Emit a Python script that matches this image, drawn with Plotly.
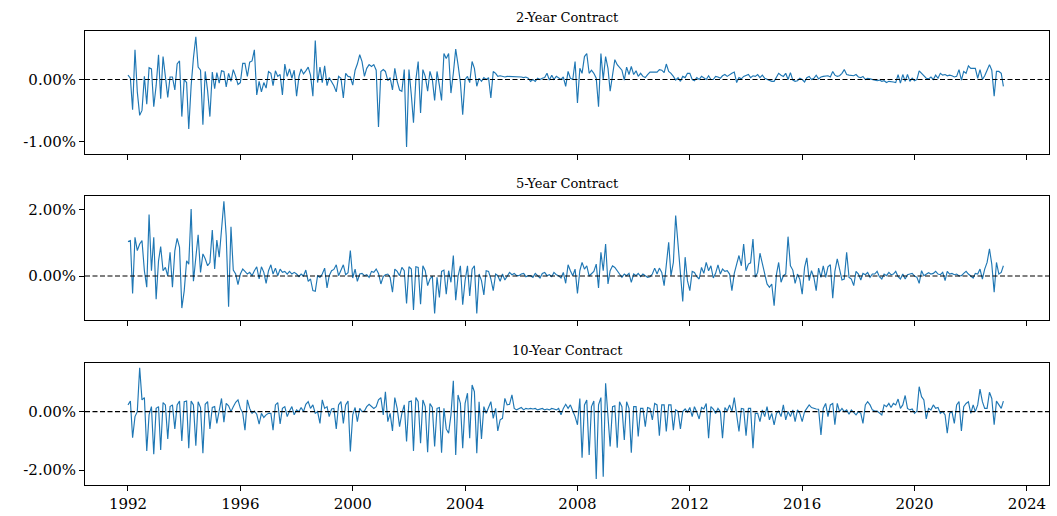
import pandas as pd
import plotly.graph_objects as go

# Monthly observations, January 1992 through March 2023 (values in percent)
dates = pd.date_range("1992-01-01", periods=375, freq="MS")

two_year = [
    # 1992
    0.07, 0.02, -0.49, 0.48, -0.20, -0.58, -0.50, 0.05, -0.40, 0.19, 0.17, -0.44,
    # 1993
    -0.10, 0.40, -0.31, 0.37, 0.05, -0.29, 0.04, 0.04, -0.17, 0.25, 0.30, -0.60,
    # 1994
    0.00, -0.05, -0.80, -0.10, 0.35, 0.69, 0.20, 0.15, -0.73, 0.13, -0.18, -0.60,
    # 1995
    0.12, -0.15, 0.11, -0.06, 0.14, 0.13, -0.12, 0.10, -0.03, 0.16, 0.05, -0.08,
    # 1996
    -0.05, 0.26, 0.26, 0.05, 0.28, 0.30, 0.48, -0.25, -0.03, -0.20, -0.05, -0.14,
    # 1997
    0.13, 0.10, -0.10, 0.14, 0.05, 0.08, -0.25, 0.25, 0.05, 0.17, 0.02, 0.15,
    # 1998
    -0.27, 0.05, 0.17, 0.09, 0.14, 0.20, 0.07, -0.27, 0.63, -0.05, 0.20, -0.05,
    # 1999
    0.22, -0.10, 0.03, -0.04, -0.10, -0.20, 0.05, 0.02, -0.30, 0.10, 0.05, 0.04,
    # 2000
    -0.09, 0.15, 0.25, 0.40, 0.29, 0.05, 0.18, 0.24, 0.21, 0.24, 0.15, -0.77,
    # 2001
    0.13, 0.16, 0.13, -0.02, 0.03, -0.17, 0.18, -0.03, -0.17, -0.19, 0.16, -1.09,
    # 2002
    0.16, -0.25, -0.70, 0.00, 0.29, -0.54, 0.16, 0.05, -0.19, 0.13, 0.00, -0.34,
    # 2003
    0.13, -0.10, -0.34, 0.42, 0.34, 0.42, -0.22, 0.10, 0.49, 0.24, -0.05, -0.57,
    # 2004
    0.00, 0.05, -0.05, 0.29, 0.18, -0.11, 0.02, -0.03, 0.03, 0.00, 0.03, -0.30,
    # 2005
    0.13, 0.10, 0.05, 0.06, 0.05, 0.04, 0.05, 0.05, 0.04, 0.05, 0.05, 0.04,
    # 2006
    0.04, 0.03, 0.04, 0.02, -0.03, 0.00, -0.03, 0.02, 0.00, 0.02, 0.03, 0.10,
    # 2007
    -0.01, 0.07, 0.00, 0.05, 0.02, 0.00, 0.04, -0.11, 0.13, 0.02, 0.00, 0.29,
    # 2008
    -0.38, 0.18, 0.10, 0.37, 0.42, 0.10, 0.15, 0.10, 0.02, -0.44, 0.42, 0.00,
    # 2009
    0.37, 0.18, -0.19, 0.10, 0.32, 0.24, 0.20, 0.15, -0.01, 0.20, 0.08, 0.21,
    # 2010
    0.08, 0.14, 0.05, 0.10, 0.05, 0.03, 0.08, 0.12, 0.12, 0.12, 0.12, 0.16,
    # 2011
    0.15, 0.11, 0.25, 0.13, 0.10, 0.05, -0.01, 0.03, -0.03, 0.05, 0.03, 0.10,
    # 2012
    0.10, 0.00, -0.02, 0.03, 0.00, 0.05, 0.02, 0.00, 0.06, 0.00, 0.00, 0.05,
    # 2013
    0.04, 0.02, 0.06, 0.08, 0.05, 0.08, 0.10, 0.12, -0.05, 0.03, 0.01, 0.05,
    # 2014
    0.06, 0.08, 0.03, 0.06, 0.05, 0.08, 0.03, 0.07, 0.02, 0.00, -0.02, -0.03,
    # 2015
    -0.03, 0.04, 0.10, 0.07, 0.05, 0.10, 0.00, 0.11, -0.01, -0.03, -0.02, 0.02,
    # 2016
    0.00, -0.04, 0.03, 0.05, 0.00, 0.02, 0.07, 0.01, 0.04, 0.05, 0.06, 0.06,
    # 2017
    0.04, 0.13, 0.07, 0.05, 0.06, 0.10, 0.16, 0.08, 0.07, 0.06, 0.06, 0.08,
    # 2018
    0.04, 0.03, 0.05, 0.00, 0.02, 0.01, 0.00, -0.02, -0.02, -0.01, -0.03, -0.02,
    # 2019
    -0.05, -0.03, -0.03, -0.04, -0.05, 0.08, -0.06, 0.08, -0.03, 0.08, -0.03, 0.02,
    # 2020
    -0.02, 0.00, 0.14, 0.10, 0.05, 0.02, 0.01, 0.04, 0.00, 0.07, 0.02, 0.10,
    # 2021
    0.07, 0.08, 0.06, 0.07, 0.06, 0.04, 0.05, 0.16, -0.01, 0.13, 0.10, 0.22,
    # 2022
    0.18, 0.18, 0.18, 0.02, 0.16, 0.00, 0.06, 0.15, 0.24, 0.15, -0.27, 0.13,
    # 2023
    0.13, 0.10, -0.11,
]

five_year = [
    # 1992
    1.04, 1.07, -0.53, 1.17, 0.77, 0.97, 1.07, 0.16, -0.34, 1.86, 0.16, 1.17,
    # 1993
    -0.70, 0.46, 0.89, 0.16, 0.26, 0.00, 0.72, -0.34, 0.76, 1.14, 0.87, -0.97,
    # 1994
    -0.45, 0.46, 0.36, 2.03, -0.16, 0.60, 1.25, 0.11, 0.67, 0.52, 0.31, 0.41,
    # 1995
    1.39, 0.21, 1.09, 0.57, 1.39, 2.26, 1.22, -0.93, 1.49, 0.18, 0.06, -0.26,
    # 1996
    0.06, 0.21, 0.14, 0.06, 0.11, 0.01, 0.16, 0.28, -0.09, 0.28, 0.11, -0.22,
    # 1997
    0.16, 0.34, 0.06, 0.24, 0.01, 0.21, 0.11, 0.14, 0.06, 0.14, 0.06, 0.11,
    # 1998
    0.06, -0.02, 0.06, 0.00, 0.18, -0.16, -0.09, -0.44, -0.46, 0.01, -0.04, 0.06,
    # 1999
    0.24, -0.36, 0.01, 0.16, 0.20, 0.34, 0.01, 0.16, 0.34, 0.04, 0.10, 0.77,
    # 2000
    -0.06, 0.21, -0.16, 0.06, 0.08, 0.01, 0.04, -0.04, 0.14, 0.11, 0.21, 0.08,
    # 2001
    -0.24, -0.02, 0.04, 0.06, -0.04, -0.49, 0.21, 0.14, 0.01, 0.26, 0.16, -0.83,
    # 2002
    0.28, 0.21, -1.03, 0.28, 0.26, -0.85, 0.31, 0.16, -0.29, -0.09, 0.00, -1.13,
    # 2003
    -0.04, -0.65, 0.14, 0.18, -0.55, 0.16, -0.19, 0.62, -0.73, -0.01, 0.31, -0.87,
    # 2004
    -0.14, 0.31, -0.60, 0.21, 0.31, -1.13, 0.06, -0.14, -0.57, 0.16, 0.14, -0.09,
    # 2005
    -0.44, 0.06, 0.01, -0.16, 0.06, -0.12, 0.01, 0.11, 0.04, 0.08, 0.01, 0.01,
    # 2006
    0.06, 0.08, -0.02, 0.01, 0.01, -0.04, 0.08, 0.01, -0.06, 0.08, 0.11, 0.01,
    # 2007
    0.04, -0.02, 0.11, 0.04, 0.01, -0.06, 0.11, -0.22, 0.34, 0.16, 0.01, 0.21,
    # 2008
    -0.53, 0.16, 0.41, 0.21, 0.31, 0.00, 0.06, 0.14, 0.36, -0.36, 0.72, 0.16,
    # 2009
    0.97, -0.24, 0.16, 0.31, 0.26, 0.14, 0.06, -0.04, 0.06, 0.01, 0.08, -0.19,
    # 2010
    0.06, 0.01, 0.08, -0.02, 0.06, 0.01, -0.04, -0.02, 0.06, 0.24, 0.06, 0.24,
    # 2011
    0.11, -0.29, 0.36, 1.02, 0.01, 0.41, 1.83, 0.87, 0.01, -0.77, 0.57, -0.14,
    # 2012
    -0.44, 0.14, 0.11, -0.02, -0.09, 0.26, 0.08, 0.41, 0.16, 0.31, -0.06, 0.08,
    # 2013
    0.34, 0.06, 0.21, 0.14, 0.16, 0.06, -0.44, 0.08, 0.36, 0.62, 0.31, 0.97,
    # 2014
    0.16, 0.36, 0.40, 1.12, -0.04, 0.11, 0.69, 0.36, 0.06, -0.24, -0.34, -0.24,
    # 2015
    -0.90, 0.06, 0.41, -0.19, 0.01, 0.06, 1.19, 0.31, 0.18, -0.22, 0.06, -0.10,
    # 2016
    -0.55, 0.26, 0.55, -0.14, 0.16, -0.04, -0.44, 0.24, -0.04, 0.31, -0.04, 0.28,
    # 2017
    0.34, -0.67, 0.14, 0.52, 0.21, -0.12, -0.09, 0.72, -0.04, -0.09, -0.29, 0.14,
    # 2018
    0.06, -0.12, 0.08, 0.04, 0.11, -0.04, 0.06, 0.06, 0.14, -0.02, -0.09, 0.06,
    # 2019
    0.01, 0.11, 0.04, 0.06, 0.14, -0.02, -0.09, 0.06, -0.09, 0.04, 0.06, 0.08,
    # 2020
    0.00, -0.04, -0.22, 0.16, 0.01, 0.06, 0.10, 0.06, 0.08, 0.14, 0.06, 0.04,
    # 2021
    0.11, -0.14, 0.14, 0.06, 0.08, 0.04, 0.06, 0.00, 0.01, 0.08, 0.14, 0.06,
    # 2022
    0.01, -0.06, 0.08, 0.06, 0.21, -0.09, 0.21, 0.41, 0.82, 0.36, -0.49, 0.41,
    # 2023
    0.06, 0.11, 0.31,
]

ten_year = [
    # 1992
    0.23, 0.36, -0.89, -0.17, 0.00, 1.50, 0.40, 0.48, -1.34, -0.11, 0.17, -1.45,
    # 1993
    0.11, 0.17, -1.31, 0.31, 0.23, -0.93, 0.17, 0.23, -0.59, 0.23, 0.36, -1.00,
    # 1994
    0.34, 0.36, -1.25, 0.36, 0.23, -1.16, 0.34, 0.14, -1.42, 0.25, 0.34, -0.59,
    # 1995
    0.14, 0.17, -0.40, 0.11, 0.45, -0.36, 0.28, 0.20, 0.00, 0.17, 0.32, 0.40,
    # 1996
    0.11, -0.05, -0.63, 0.40, 0.11, -0.06, 0.02, -0.09, -0.43, -0.06, -0.20, -0.11,
    # 1997
    -0.06, -0.06, -0.63, 0.23, 0.31, -0.42, 0.11, 0.17, -0.17, 0.02, 0.17, -0.11,
    # 1998
    0.06, 0.00, 0.14, 0.00, 0.25, 0.34, 0.11, 0.23, -0.06, 0.00, -0.40, 0.40,
    # 1999
    0.11, 0.17, -0.17, 0.09, 0.11, -0.59, 0.23, 0.34, -0.40, 0.23, 0.36, -1.36,
    # 2000
    -0.11, 0.14, -0.34, 0.11, 0.00, 0.02, 0.17, 0.25, 0.17, 0.11, 0.17, 0.40,
    # 2001
    0.48, -0.11, 0.68, -0.34, -0.06, -0.66, 0.48, 0.11, -0.51, -0.06, 0.23, -1.02,
    # 2002
    0.34, 0.36, -1.34, 0.48, 0.34, -1.08, 0.40, 0.17, -1.39, 0.28, 0.14, -1.19,
    # 2003
    0.11, 0.14, -1.40, 0.11, -0.59, -0.74, -0.11, 1.05, -1.48, 0.57, 0.28, -1.25,
    # 2004
    0.28, 0.63, -0.91, 0.91, 0.68, -1.42, 0.34, -0.93, 0.17, -0.06, 0.14, 0.34,
    # 2005
    -0.23, 0.11, -0.66, -0.28, -0.23, 0.45, 0.23, 0.25, 0.57, 0.11, 0.06, 0.11,
    # 2006
    0.14, 0.06, 0.11, 0.09, 0.11, 0.09, 0.11, 0.06, 0.09, 0.11, 0.06, 0.09,
    # 2007
    0.06, 0.11, 0.09, 0.06, 0.11, -0.11, 0.11, 0.25, 0.11, 0.23, 0.02, -0.17,
    # 2008
    -0.45, 0.45, -1.57, 0.23, 0.40, -1.48, 0.17, 0.36, -2.30, 0.23, 0.48, -2.22,
    # 2009
    0.97, -0.23, -1.19, 0.17, 0.20, -1.23, 0.34, 0.17, -0.97, 0.34, 0.11, -1.40,
    # 2010
    0.17, 0.17, -0.85, 0.11, 0.11, -0.51, 0.14, 0.11, -0.28, 0.28, 0.23, -0.82,
    # 2011
    0.23, 0.23, -0.68, 0.23, 0.23, -0.63, 0.06, 0.00, -0.59, 0.00, 0.09, -0.02,
    # 2012
    0.14, -0.17, 0.17, -0.02, -0.25, 0.14, 0.09, 0.28, -0.91, 0.17, 0.09, -0.06,
    # 2013
    0.11, 0.00, -0.91, 0.14, 0.02, 0.23, 0.00, 0.48, -0.06, -0.68, 0.11, 0.09,
    # 2014
    -0.82, 0.11, 0.11, -1.25, -0.06, -0.06, -0.34, 0.06, -0.17, 0.17, -0.28, -0.06,
    # 2015
    -0.45, -0.06, 0.02, -0.17, 0.23, -0.28, 0.00, -0.17, 0.06, -0.34, 0.06, -0.06,
    # 2016
    -0.34, 0.00, 0.11, 0.23, 0.14, 0.11, 0.09, 0.08, -0.80, 0.11, 0.28, -0.17,
    # 2017
    0.23, 0.28, -0.45, 0.28, 0.00, 0.11, 0.00, 0.06, -0.09, 0.06, -0.02, -0.11,
    # 2018
    0.00, -0.06, -0.40, 0.23, 0.34, 0.23, 0.06, 0.02, 0.02, -0.06, -0.11, 0.23,
    # 2019
    0.17, 0.28, 0.14, 0.28, 0.23, 0.43, 0.11, 0.23, 0.55, 0.11, 0.06, 0.09,
    # 2020
    -0.06, 0.02, 0.85, 0.51, 0.40, -0.25, 0.11, 0.06, 0.23, 0.11, 0.14, -0.06,
    # 2021
    0.00, -0.11, -0.74, -0.06, 0.00, -0.40, 0.23, 0.34, -0.66, 0.17, 0.28, 0.34,
    # 2022
    -0.06, 0.23, 0.00, 0.23, 0.77, 0.34, 0.11, 0.11, 0.66, 0.45, -0.45, 0.36,
    # 2023
    0.23, 0.11, 0.36,
]

titles = ["2-Year Contract", "5-Year Contract", "10-Year Contract"]
series = [two_year, five_year, ten_year]
y_ranges = [[-1.205, 0.784], [-1.33, 2.42], [-2.505, 1.66]]
y_ticks = [[-1.0, 0.0], [0.0, 2.0], [-2.0, 0.0]]

W, H = 1057, 516
x_dom = [85 / W, 1049 / W]
# panel (top, bottom) in pixels from the top of the page
panels_px = [(31, 154), (196, 320), (363, 485)]
title_px = [18, 184, 350]

x_years = list(range(1992, 2025, 4))
x_tickvals = [f"{y}-01-01" for y in x_years]
x_ticktext = [str(y) for y in x_years]

FONT = "DejaVu Serif"
LINE_BLUE = "#1f77b4"

fig = go.Figure()
layout = dict(
    width=W, height=H,
    margin=dict(l=0, r=0, t=0, b=0),
    paper_bgcolor="white", plot_bgcolor="white",
    showlegend=False,
    font=dict(family=FONT, color="black"),
    shapes=[], annotations=[],
)

for k in range(3):
    n = k + 1
    xa = "x" if n == 1 else f"x{n}"
    ya = "y" if n == 1 else f"y{n}"
    xkey = "xaxis" if n == 1 else f"xaxis{n}"
    ykey = "yaxis" if n == 1 else f"yaxis{n}"
    top, bot = panels_px[k]
    y_dom = [1 - bot / H, 1 - top / H]

    fig.add_trace(go.Scatter(
        x=dates, y=series[k], mode="lines",
        line=dict(color=LINE_BLUE, width=1.15),
        xaxis=xa, yaxis=ya, hoverinfo="x+y",
    ))

    layout[xkey] = dict(
        domain=x_dom, anchor=ya, type="date",
        range=["1990-06-21", "2024-10-14"],
        tickvals=x_tickvals, ticktext=x_ticktext,
        showticklabels=(k == 2),
        ticks="outside", ticklen=5, tickwidth=1, tickcolor="black",
        showline=True, linecolor="black", linewidth=1, mirror=True,
        showgrid=False, zeroline=False,
        tickfont=dict(family=FONT, size=15, color="black"),
    )
    layout[ykey] = dict(
        domain=y_dom, anchor=xa,
        range=y_ranges[k],
        tickvals=y_ticks[k],
        ticktext=[f"{v:.2f}%" for v in y_ticks[k]],
        ticks="outside", ticklen=5, tickwidth=1, tickcolor="black",
        showline=True, linecolor="black", linewidth=1, mirror=True,
        showgrid=False, zeroline=False,
        tickfont=dict(family=FONT, size=15, color="black"),
    )

    # dashed zero reference line across each panel
    layout["shapes"].append(dict(
        type="line", xref=f"{xa} domain", yref=ya,
        x0=0, x1=1, y0=0, y1=0,
        line=dict(color="black", width=1.2, dash="5px,2.5px"),
        layer="above",
    ))
    layout["annotations"].append(dict(
        text=titles[k], xref="paper", yref="paper",
        x=(x_dom[0] + x_dom[1]) / 2, y=1 - title_px[k] / H,
        xanchor="center", yanchor="middle", showarrow=False,
        font=dict(family=FONT, size=13, color="black"),
    ))

fig.update_layout(**layout)
fig.write_html("out.html")
